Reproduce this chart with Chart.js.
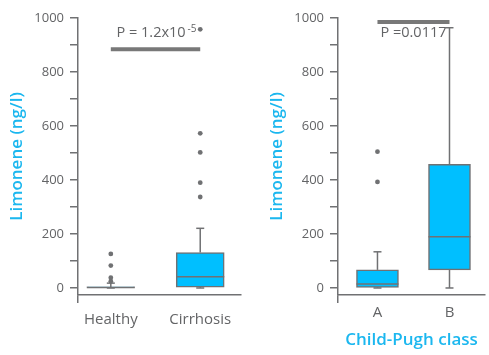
<!DOCTYPE html>
<html lang="en">
<head>
  <meta charset="UTF-8" />
  <title>Limonene by group</title>
  <script src="https://cdn.jsdelivr.net/npm/chart.js"></script>
  <style>
    body {
      margin: 0;
      background: #fff;
    }
    .wrap {
      display: flex;
      width: 489px;
      height: 355px;
    }
    .panel {
      position: relative;
      height: 355px;
    }
    #leftBox { width: 245px; }
    #rightBox { width: 244px; }
  </style>
</head>
<body>
  <div class="wrap">
    <div class="panel" id="leftBox"><canvas id="leftChart"></canvas></div>
    <div class="panel" id="rightBox"><canvas id="rightChart"></canvas></div>
  </div>

  <script>
    // left panel: Healthy vs Cirrhosis
    const leftGroups = ['Healthy', 'Cirrhosis'];
    const leftQ1 = [0, 3];
    const leftMedian = [2, 42];
    const leftQ3 = [4, 131];
    const leftMin = [0, 0];
    const leftMax = [18, 221];
    const leftOutliers = [[25, 38, 83, 126], [337, 390, 502, 573, 958]];
    const leftSigAt = 884;

    // right panel: Child-Pugh class A vs B
    const rightGroups = ['A', 'B'];
    const rightQ1 = [2, 67];
    const rightMedian = [15, 190];
    const rightQ3 = [67, 458];
    const rightMin = [0, 0];
    const rightMax = [134, 964];
    const rightOutliers = [[393, 505], []];
    const rightSigAt = 985;

    const yTickValues = [0, 100, 200, 300, 400, 500, 600, 700, 800, 900, 1000];
    const yTickLabels = [0, 200, 400, 600, 800, 1000];

    const GRAY = '#707173';
    const TEXT = '#636466';
    const BLUE = '#00bfff';
    const TITLE_BLUE = '#1bb7ef';
    const FONT = "'Open Sans', sans-serif";

    // whiskers, medians and the significance bar, drawn through the scales
    const boxExtras = {
      id: 'boxExtras',
      afterDatasetsDraw(chart, args, o) {
        const x = chart.scales.x, y = chart.scales.y, c = chart.ctx;
        const seg = (x1, y1, x2, y2) => {
          c.beginPath(); c.moveTo(x1, y1); c.lineTo(x2, y2); c.stroke();
        };
        c.save();
        c.strokeStyle = GRAY;
        c.lineWidth = 1.5;
        o.median.forEach((m, i) => {
          const px = x.getPixelForValue(i + 1);
          const half = o.boxWidth / 2;
          const cap = 4;
          seg(px, y.getPixelForValue(o.q3[i]), px, y.getPixelForValue(o.max[i]));
          seg(px - cap, y.getPixelForValue(o.max[i]), px + cap, y.getPixelForValue(o.max[i]));
          seg(px, y.getPixelForValue(o.q1[i]), px, y.getPixelForValue(o.min[i]));
          seg(px - cap, y.getPixelForValue(o.min[i]), px + cap, y.getPixelForValue(o.min[i]));
          seg(px - half, y.getPixelForValue(m), px + half, y.getPixelForValue(m));
        });

        const yb = y.getPixelForValue(o.sigAt);
        const x1 = x.getPixelForValue(1), x2 = x.getPixelForValue(2);
        c.strokeStyle = '#787878';
        c.lineWidth = 4;
        seg(x1, yb, x2, yb);

        c.fillStyle = TEXT;
        c.textBaseline = 'alphabetic';
        c.textAlign = 'left';
        c.font = '14.5px ' + FONT;
        const mainW = c.measureText(o.label).width;
        c.font = '10px ' + FONT;
        const supW = o.sup ? c.measureText(o.sup).width + 2 : 0;
        const start = (x1 + x2) / 2 + o.labelShift - (mainW + supW) / 2;
        const base = yb + o.labelOffset;
        c.font = '14.5px ' + FONT;
        c.fillText(o.label, start, base);
        if (o.sup) {
          c.font = '10px ' + FONT;
          c.fillText(o.sup, start + mainW + 2, base - 5);
        }
        c.restore();
      }
    };

    function buildChart(id, p) {
      const ctx = document.getElementById(id).getContext('2d');
      const boxes = p.groups.map((g, i) => ({ x: i + 1, y: [p.q1[i], p.q3[i]] }));
      const dots = [];
      p.outliers.forEach((list, i) => list.forEach(v => dots.push({ x: i + 1, y: v })));

      return new Chart(ctx, {
        type: 'bar',
        data: {
          datasets: [
            {
              type: 'scatter',
              data: dots,
              pointRadius: 2.4,
              pointBackgroundColor: GRAY,
              pointBorderWidth: 0,
              order: 0
            },
            {
              data: boxes,
              backgroundColor: BLUE,
              borderColor: GRAY,
              borderWidth: 1.5,
              borderSkipped: false,
              barThickness: p.boxWidth,
              order: 1
            }
          ]
        },
        options: {
          responsive: true,
          maintainAspectRatio: false,
          animation: false,
          layout: { padding: { top: 18, left: p.padLeft, right: p.padRight, bottom: 0 } },
          scales: {
            x: {
              type: 'linear',
              min: p.xMin,
              max: p.xMax,
              offset: false,
              afterBuildTicks: s => { s.ticks = [{ value: s.min }, { value: 1 }, { value: 2 }]; },
              afterFit: s => { s.height = 60; },
              ticks: {
                autoSkip: false,
                maxRotation: 0,
                padding: p.labelPad,
                color: TEXT,
                font: { family: FONT, size: 15 },
                callback: v => (v === 1 ? p.groups[0] : v === 2 ? p.groups[1] : '')
              },
              grid: {
                offset: false,
                drawOnChartArea: false,
                tickLength: 8,
                lineWidth: 1.5,
                color: c => (c.index === 0 ? GRAY : 'rgba(0,0,0,0)')
              },
              border: { color: GRAY, width: 1.5 },
              title: {
                display: !!p.xTitle,
                text: p.xTitle || '',
                color: TITLE_BLUE,
                font: { family: FONT, size: 17, weight: '600' },
                padding: { top: 0, bottom: 5 }
              }
            },
            y: {
              min: -26,
              max: 1000,
              afterBuildTicks: s => { s.ticks = yTickValues.map(v => ({ value: v })); },
              afterFit: s => { s.width = 78; },
              ticks: {
                padding: 6,
                color: TEXT,
                font: { family: FONT, size: 13 },
                callback: v => (yTickLabels.includes(v) ? v : '')
              },
              grid: { drawOnChartArea: false, tickLength: 8, lineWidth: 1.5, color: GRAY },
              border: { color: GRAY, width: 1.5 },
              title: {
                display: true,
                text: 'Limonene (ng/l)',
                color: TITLE_BLUE,
                font: { family: FONT, size: 17, weight: '600' },
                padding: { top: 7, bottom: 0 }
              }
            }
          },
          plugins: {
            legend: { display: false },
            tooltip: { enabled: false },
            boxExtras: {
              median: p.median, q1: p.q1, q3: p.q3, min: p.min, max: p.max,
              boxWidth: p.boxWidth, sigAt: p.sigAt,
              label: p.label, sup: p.sup, labelOffset: p.labelOffset, labelShift: p.labelShift
            }
          }
        },
        plugins: [boxExtras]
      });
    }

    buildChart('leftChart', {
      groups: leftGroups, q1: leftQ1, median: leftMedian, q3: leftQ3,
      min: leftMin, max: leftMax, outliers: leftOutliers, sigAt: leftSigAt,
      label: 'P = 1.2x10', sup: '-5', labelOffset: -12, labelShift: 1,
      boxWidth: 48, xMin: 0.633, xMax: 2.456, padLeft: 0, padRight: 3, labelPad: 8
    });

    buildChart('rightChart', {
      groups: rightGroups, q1: rightQ1, median: rightMedian, q3: rightQ3,
      min: rightMin, max: rightMax, outliers: rightOutliers, sigAt: rightSigAt,
      label: 'P =0.0117', sup: '', labelOffset: 15, labelShift: 0,
      boxWidth: 42, xMin: 0.452, xMax: 2.493, padLeft: 15, padRight: 2, labelPad: 1,
      xTitle: 'Child-Pugh class'
    });
  </script>
</body>
</html>
